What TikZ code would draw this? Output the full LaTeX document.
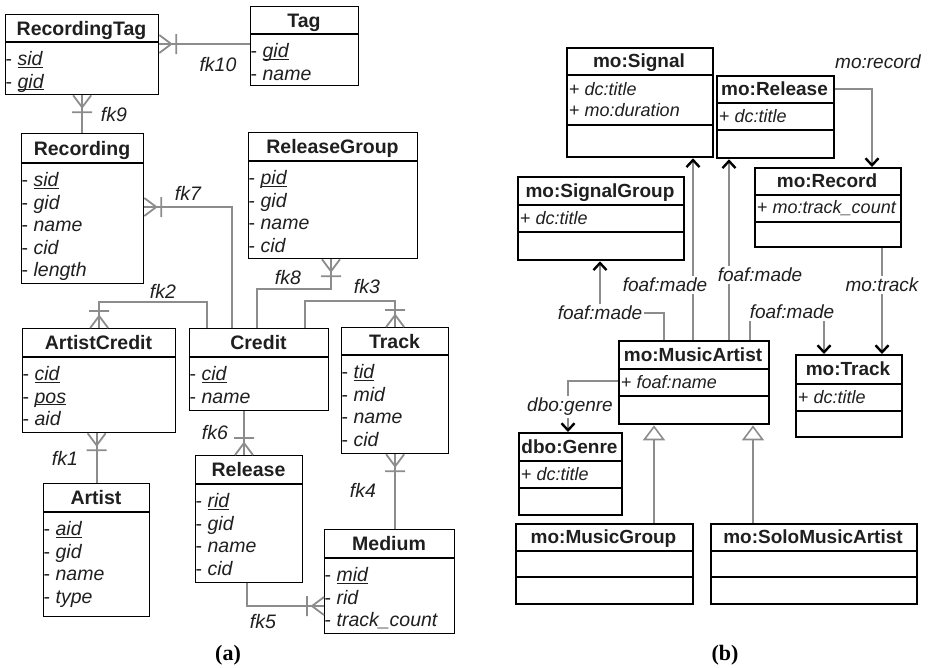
\documentclass[tikz,border=0pt]{standalone}
\usepackage{fontspec}
\setmainfont{Liberation Serif}
\setsansfont{Liberation Sans}
\usetikzlibrary{arrows.meta}

\definecolor{connGray}{gray}{0.55}
\definecolor{textGray}{gray}{0.12}

% key attribute: underline close to the baseline
\newcommand{\key}[1]{\underline{\smash{#1}}}

% ER table: name, left, top, right, header line, bottom, title, attributes
\newcommand{\ertable}[8]{%
  \node[tbl, minimum width={#4-#2}, minimum height={#6-#3}] (#1) at (#2,#3) {};
  \node[hdr] (#1-h) at ({(#2+#4)/2},{(#3+#5)/2+7}) {#7};
  \draw[hline] (#2,#5) -- (#4,#5);
  \foreach \a [count=\i from 0] in {#8}
    \node[attr] (#1-\i) at (#2,{#5+23.5+22.5*\i}) {- \textit{\a}};
}

% UML class: name, left, top, right, line 1, line 2, bottom, title, attributes
\newcommand{\umlclass}[9]{%
  \node[cls, minimum width={#4-#2}, minimum height={#7-#3}] (#1) at (#2,#3) {};
  \node[chdr] (#1-h) at ({(#2+#4)/2},{(#3+#5)/2+6.8}) {#8};
  \draw[cline] (#2,#5) -- (#4,#5) (#2,#6) -- (#4,#6);
  \node[cattr] (#1-a) at (#2,{(#5+#6)/2}) {#9};
}

\begin{document}
\begin{tikzpicture}[
    x=1pt, y=-1pt,
    every node/.style={text=textGray},
    tbl/.style={draw=black, line width=1.3pt, anchor=north west, inner sep=0pt},
    hline/.style={draw=black, line width=1.6pt},
    hdr/.style={font=\sffamily\bfseries\fontsize{19.5}{22}\selectfont, anchor=base, inner sep=0pt},
    attr/.style={font=\sffamily\fontsize{19.5}{22}\selectfont, anchor=base west, inner sep=0.5pt},
    fk/.style={draw=connGray, line width=2.2pt},
    fklbl/.style={font=\sffamily\itshape\fontsize{19.5}{22}\selectfont},
    cls/.style={draw=black, line width=2.3pt, anchor=north west, inner sep=0pt},
    cline/.style={draw=black, line width=2.3pt},
    chdr/.style={font=\sffamily\bfseries\fontsize{19}{21}\selectfont, anchor=base, inner sep=0pt},
    cattr/.style={font=\sffamily\fontsize{18}{21}\selectfont, anchor=west, align=left, inner sep=3pt},
    rel/.style={draw=connGray, line width=2pt,
        -{Straight Barb[length=7pt,width=13pt,line width=2.4pt,color=black]}},
    isa/.style={draw=connGray, line width=2pt,
        -{Triangle[open,length=15pt,width=22pt,line width=1.6pt,fill=white]}},
    rlbl/.style={font=\sffamily\itshape\fontsize{19}{21}\selectfont, fill=white, inner sep=2pt},
    captxt/.style={font=\rmfamily\bfseries\fontsize{22}{24}\selectfont, text=black},
    crow/.pic={\draw[connGray, line width=1.8pt] (0,-9) -- (12,0) -- (0,9) (17,-10) -- (17,10);}
]
\useasboundingbox (0,0) rectangle (928,667);

% ----------------------------------------------------------
% (a) relational schema
% ----------------------------------------------------------
\ertable{rtag}{5}{14}{158}{42}{94}{RecordingTag}{\key{sid},\key{gid}}
\ertable{tag}{250}{6}{358}{34}{85}{Tag}{\key{gid},name}
\ertable{rec}{21}{133}{143}{163}{283}{Recording}{\key{sid},gid,name,cid,length}
\ertable{rgrp}{248}{132}{417}{161}{258}{ReleaseGroup}{\key{pid},gid,name,cid}
\ertable{cred}{189}{328}{328}{357}{410}{Credit}{\key{cid},name}
\ertable{trk}{341}{327}{448}{355}{453}{Track}{\key{tid},mid,name,cid}
\ertable{acred}{22}{328}{175}{357}{432}{ArtistCredit}{\key{cid},\key{pos},aid}
\ertable{art}{43}{483}{149}{512}{616}{Artist}{\key{aid},gid,name,type}
\ertable{rel}{195}{455}{302}{484}{582}{Release}{\key{rid},gid,name,cid}
\ertable{med}{324}{529}{454}{558}{633}{Medium}{\key{mid},rid,track\_count}

% foreign keys, crow's foot on the many side
\draw[fk] (rtag.east |- 0,44) -- (tag.west |- 0,44);
\pic at (rtag.east |- 0,44) {crow};
\node[fklbl] (fk10) at (218,65) {fk10};

\draw[fk] (rtag.south) -- (rtag.south |- rec.north);
\pic[rotate=-90] at (rtag.south) {crow};
\node[fklbl] (fk9) at (114,115) {fk9};

\draw[fk] (rec.east |- 0,207) -| (cred.north -| 232,0);
\pic at (rec.east |- 0,207) {crow};
\node[fklbl] (fk7) at (188,193) {fk7};

\draw[fk] (rgrp.south -| 331,0) |- (257,289) -- (cred.north -| 257,0);
\pic[rotate=-90] at (rgrp.south -| 331,0) {crow};
\node[fklbl] (fk8) at (288,278) {fk8};

\draw[fk] (cred.north -| 305,0) |- (trk.north |- 0,301) -- (trk.north);
\pic[rotate=90] at (trk.north) {crow};
\node[fklbl] (fk3) at (367,287) {fk3};

\draw[fk] (cred.north -| 207,0) |- (acred.north |- 0,302) -- (acred.north);
\pic[rotate=90] at (acred.north) {crow};
\node[fklbl] (fk2) at (163,291) {fk2};

\draw[fk] (acred.south -| art.north) -- (art.north);
\pic[rotate=-90] at (acred.south -| art.north) {crow};
\node[fklbl] (fk1) at (65,458) {fk1};

\draw[fk] (cred.south -| 244,0) -- (rel.north -| 244,0);
\pic[rotate=90] at (rel.north -| 244,0) {crow};
\node[fklbl] (fk6) at (215,433) {fk6};

\draw[fk] (trk.south) -- (trk.south |- med.north);
\pic[rotate=-90] at (trk.south) {crow};
\node[fklbl] (fk4) at (363,490) {fk4};

\draw[fk] (rel.south -| 247,0) |- (med.west |- 0,606);
\pic[rotate=180] at (med.west |- 0,606) {crow};
\node[fklbl] (fk5) at (263,622) {fk5};

\node[captxt] (cap-a) at (228,655) {(a)};

% ----------------------------------------------------------
% (b) ontology classes
% ----------------------------------------------------------
\umlclass{sig}{566}{47}{712}{75}{125}{156}{mo:Signal}{+ \textit{dc:title}\\+ \textit{mo:duration}}
\umlclass{sgrp}{517}{176}{683}{205}{232}{259}{mo:SignalGroup}{+ \textit{dc:title}}
\umlclass{mrel}{716}{75}{833}{103}{130}{157}{mo:Release}{+ \textit{dc:title}}
\umlclass{mrec}{754}{167}{900}{195}{222}{246}{mo:Record}{+ \textit{mo:track\_count}}
\umlclass{mart}{618}{340}{768}{369}{396}{423}{mo:MusicArtist}{+ \textit{foaf:name}}
\umlclass{mtrk}{795}{354}{901}{384}{411}{436}{mo:Track}{+ \textit{dc:title}}
\umlclass{gen}{518}{432}{621}{461}{488}{514}{dbo:Genre}{+ \textit{dc:title}}
\umlclass{mgrp}{515}{523}{692}{551}{577}{603}{mo:MusicGroup}{}
\umlclass{solo}{710}{523}{916}{551}{577}{603}{mo:SoloMusicArtist}{}

% properties
\draw[rel] (mart.north -| 664,0) |- (600,313) -- (sgrp.south -| 600,0);
\node[rlbl] (made1) at (600,313) {foaf:made};
\draw[rel] (mart.north -| 693,0) -- (sig.south -| 693,0);
\node[rlbl] (made2) at (665,285) {foaf:made};
\draw[rel] (mart.north -| 729,0) -- (mrel.south -| 729,0);
\node[rlbl] (made3) at (760,275) {foaf:made};
\draw[rel] (mart.north -| 750,0) |- (824,312) -- (mtrk.north -| 824,0);
\node[rlbl] (made4) at (792,312) {foaf:made};
\draw[rel] (mrec.south -| 882,0) -- (mtrk.north -| 882,0);
\node[rlbl] (track) at (882,285) {mo:track};
\draw[rel] (mrel.east |- 0,89) -| (mrec.north -| 872,0);
\node[rlbl] (record) at (878,62) {mo:record};
\draw[rel] (mart.west |- 0,381) -| (gen.north -| 568,0);
\node[rlbl] (genre) at (570,407) {dbo:genre};

% subclasses
\draw[isa] (mgrp.north -| 654,0) -- (mart.south -| 654,0);
\draw[isa] (solo.north -| 753,0) -- (mart.south -| 753,0);

\node[captxt] (cap-b) at (725,655) {(b)};

\end{tikzpicture}
\end{document}
